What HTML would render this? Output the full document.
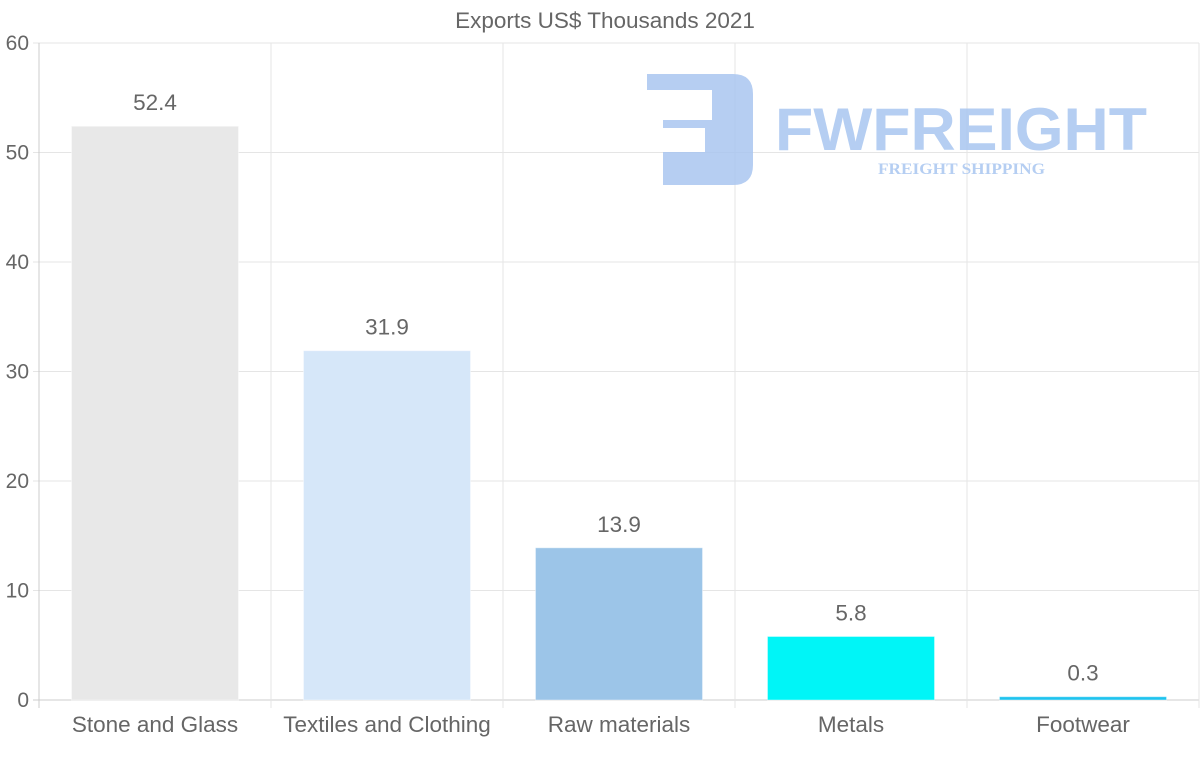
<!DOCTYPE html>
<html><head><meta charset="utf-8"><style>
body{margin:0;background:#fff;}
svg text{font-family:"Liberation Sans",sans-serif;}
</style></head><body>
<svg id="chart" width="1200" height="763" viewBox="0 0 1200 763" xmlns="http://www.w3.org/2000/svg">
<text x="605" y="28" text-anchor="middle" font-size="22.5" fill="#666">Exports US$ Thousands 2021</text>
<g id="grid"></g>
<g id="watermark" opacity="0.85">
<path fill="#a9c6f0" d="M647 74 H733 Q753 74 753 94 V165 Q753 185 733 185 H663 V152 H705 V128 H663 V120 H712 V90 H647 Z"/>
<text x="775" y="150" font-size="60" font-weight="bold" fill="#a9c6f0" textLength="372" lengthAdjust="spacingAndGlyphs">FWFREIGHT</text>
<text x="878" y="174" font-size="16" font-weight="bold" fill="#a9c6f0" style="font-family:'Liberation Serif',serif" textLength="167" lengthAdjust="spacingAndGlyphs">FREIGHT SHIPPING</text>
</g>
<g id="bars"></g>
<g id="axes"></g>
</svg>
<script>
const categories=["Stone and Glass","Textiles and Clothing","Raw materials","Metals","Footwear"];
const values=[52.4,31.9,13.9,5.8,0.3];
const valueLabels=["52.4","31.9","13.9","5.8","0.3"];
const yTicks=[0,10,20,30,40,50,60];
const colors=["#e8e8e8","#d6e7f9","#9cc5e8","#00f5f7","#1ec3ee"];
const NS="http://www.w3.org/2000/svg";
const L=39,R=1199,T=43,B=700,yMax=60;
const bw=(R-L)/categories.length;
const y=v=>B-(v/yMax)*(B-T);
const x=i=>L+i*bw;
function mk(t,a,p){const e=document.createElementNS(NS,t);for(const k in a)e.setAttribute(k,a[k]);p.appendChild(e);return e;}
const grid=document.getElementById('grid'),bars=document.getElementById('bars'),axes=document.getElementById('axes');
yTicks.forEach(t=>{
 const l=mk('line',{x1:L-6,x2:R,y1:y(t),y2:y(t),stroke:t===0?'#ccc':'#e5e5e5'},grid);
 
 
 const tx=mk('text',{x:L-10,y:y(t)+7,'text-anchor':'end','font-size':21,fill:'#666'},axes);
 tx.textContent=t;
 
 
});
for(let i=0;i<=categories.length;i++){
 const l=mk('line',{x1:x(i),x2:x(i),y1:T,y2:B+8,stroke:i===0?'#ccc':'#e5e5e5'},grid);
 
 
}
categories.forEach((c,i)=>{
 const w=bw*0.72,bx=x(i)+(bw-w)/2;
 const r=mk('rect',{x:bx,y:y(values[i]),width:w,height:B-y(values[i]),fill:colors[i],stroke:'#fff','stroke-opacity':0.4},bars);
 
 
 const v=mk('text',{x:x(i)+bw/2,y:y(values[i])-16,'text-anchor':'middle','font-size':22.5,fill:'#666'},bars);
 v.textContent=valueLabels[i];
 
 
 const lb=mk('text',{x:x(i)+bw/2,y:732,'text-anchor':'middle','font-size':22.5,fill:'#666'},axes);
 lb.textContent=c;
 
 
});
</script>
</body></html>
